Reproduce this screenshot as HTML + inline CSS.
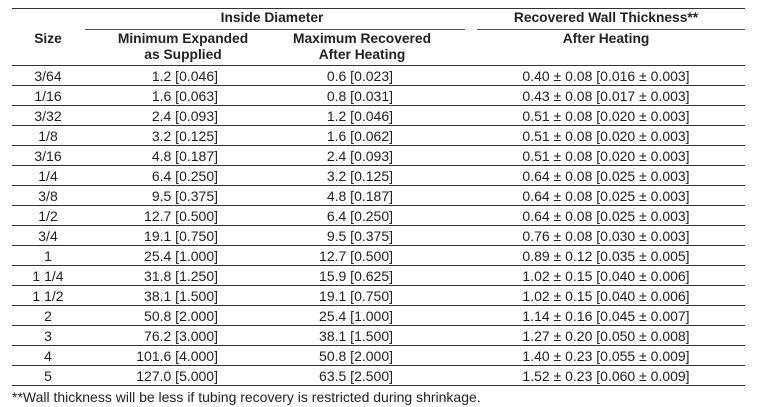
<!DOCTYPE html>
<html><head><meta charset="utf-8"><style>
body{margin:0;width:762px;height:407px;background:#fff;position:relative;overflow:hidden;font-family:"Liberation Sans",Arial,sans-serif;color:#222;font-size:14px}
.l{position:absolute;height:1px;background:#333}
.t{position:absolute;white-space:nowrap;line-height:16px}
.b{font-weight:bold;font-size:13.8px}
.c{transform:translateX(-50%)}
.row{position:absolute;left:0;width:762px;height:20px}
.row span{position:absolute;top:2px;white-space:nowrap;line-height:16px}
.s{left:48px;transform:translateX(-50%)}
.a{left:218px;transform:translateX(-100%)}
.m{left:393px;transform:translateX(-100%)}
.w{left:606px;transform:translateX(-50%)}
</style></head><body>
<div class="l" style="top:8px;left:12px;width:733px"></div>
<div class="l" style="top:29px;left:85px;width:380px;background:#555"></div>
<div class="l" style="top:29px;left:477px;width:268px;background:#555"></div>
<div class="l" style="top:65px;left:12px;width:733px"></div>
<div class="t b c" style="left:272px;top:10px">Inside Diameter</div>
<div class="t b c" style="left:606px;top:10px">Recovered Wall Thickness**</div>
<div class="t b c" style="left:48px;top:31px">Size</div>
<div class="t b c" style="left:183px;top:31px;text-align:center">Minimum Expanded<br>as Supplied</div>
<div class="t b c" style="left:362px;top:31px;text-align:center">Maximum Recovered<br>After Heating</div>
<div class="t b c" style="left:606px;top:31px">After Heating</div>

<div class="row" style="top:66px"><span class="s">3/64</span><span class="a">1.2 [0.046]</span><span class="m">0.6 [0.023]</span><span class="w">0.40 ± 0.08 [0.016 ± 0.003]</span></div>
<div class="row" style="top:86px"><span class="s">1/16</span><span class="a">1.6 [0.063]</span><span class="m">0.8 [0.031]</span><span class="w">0.43 ± 0.08 [0.017 ± 0.003]</span></div>
<div class="row" style="top:106px"><span class="s">3/32</span><span class="a">2.4 [0.093]</span><span class="m">1.2 [0.046]</span><span class="w">0.51 ± 0.08 [0.020 ± 0.003]</span></div>
<div class="row" style="top:126px"><span class="s">1/8</span><span class="a">3.2 [0.125]</span><span class="m">1.6 [0.062]</span><span class="w">0.51 ± 0.08 [0.020 ± 0.003]</span></div>
<div class="row" style="top:146px"><span class="s">3/16</span><span class="a">4.8 [0.187]</span><span class="m">2.4 [0.093]</span><span class="w">0.51 ± 0.08 [0.020 ± 0.003]</span></div>
<div class="row" style="top:166px"><span class="s">1/4</span><span class="a">6.4 [0.250]</span><span class="m">3.2 [0.125]</span><span class="w">0.64 ± 0.08 [0.025 ± 0.003]</span></div>
<div class="row" style="top:186px"><span class="s">3/8</span><span class="a">9.5 [0.375]</span><span class="m">4.8 [0.187]</span><span class="w">0.64 ± 0.08 [0.025 ± 0.003]</span></div>
<div class="row" style="top:206px"><span class="s">1/2</span><span class="a">12.7 [0.500]</span><span class="m">6.4 [0.250]</span><span class="w">0.64 ± 0.08 [0.025 ± 0.003]</span></div>
<div class="row" style="top:226px"><span class="s">3/4</span><span class="a">19.1 [0.750]</span><span class="m">9.5 [0.375]</span><span class="w">0.76 ± 0.08 [0.030 ± 0.003]</span></div>
<div class="row" style="top:246px"><span class="s">1</span><span class="a">25.4 [1.000]</span><span class="m">12.7 [0.500]</span><span class="w">0.89 ± 0.12 [0.035 ± 0.005]</span></div>
<div class="row" style="top:266px"><span class="s">1 1/4</span><span class="a">31.8 [1.250]</span><span class="m">15.9 [0.625]</span><span class="w">1.02 ± 0.15 [0.040 ± 0.006]</span></div>
<div class="row" style="top:286px"><span class="s">1 1/2</span><span class="a">38.1 [1.500]</span><span class="m">19.1 [0.750]</span><span class="w">1.02 ± 0.15 [0.040 ± 0.006]</span></div>
<div class="row" style="top:306px"><span class="s">2</span><span class="a">50.8 [2.000]</span><span class="m">25.4 [1.000]</span><span class="w">1.14 ± 0.16 [0.045 ± 0.007]</span></div>
<div class="row" style="top:326px"><span class="s">3</span><span class="a">76.2 [3.000]</span><span class="m">38.1 [1.500]</span><span class="w">1.27 ± 0.20 [0.050 ± 0.008]</span></div>
<div class="row" style="top:346px"><span class="s">4</span><span class="a">101.6 [4.000]</span><span class="m">50.8 [2.000]</span><span class="w">1.40 ± 0.23 [0.055 ± 0.009]</span></div>
<div class="row" style="top:366px"><span class="s">5</span><span class="a">127.0 [5.000]</span><span class="m">63.5 [2.500]</span><span class="w">1.52 ± 0.23 [0.060 ± 0.009]</span></div>

<div class="l" style="top:85px;left:12px;width:733px"></div>
<div class="l" style="top:105px;left:12px;width:733px"></div>
<div class="l" style="top:125px;left:12px;width:733px"></div>
<div class="l" style="top:145px;left:12px;width:733px"></div>
<div class="l" style="top:165px;left:12px;width:733px"></div>
<div class="l" style="top:185px;left:12px;width:733px"></div>
<div class="l" style="top:205px;left:12px;width:733px"></div>
<div class="l" style="top:225px;left:12px;width:733px"></div>
<div class="l" style="top:245px;left:12px;width:733px"></div>
<div class="l" style="top:265px;left:12px;width:733px"></div>
<div class="l" style="top:285px;left:12px;width:733px"></div>
<div class="l" style="top:305px;left:12px;width:733px"></div>
<div class="l" style="top:325px;left:12px;width:733px"></div>
<div class="l" style="top:345px;left:12px;width:733px"></div>
<div class="l" style="top:365px;left:12px;width:733px"></div>
<div class="l" style="top:385px;left:12px;width:733px"></div>
<div class="t" style="left:12px;top:389px">**Wall thickness will be less if tubing recovery is restricted during shrinkage.</div>
</body></html>
